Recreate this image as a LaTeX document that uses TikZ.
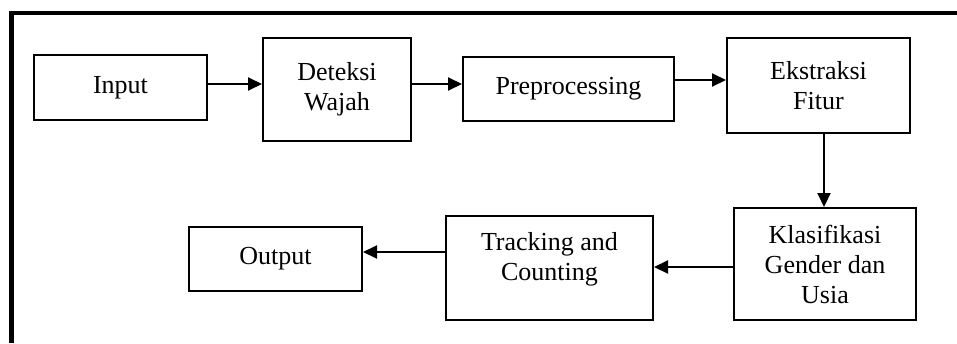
\documentclass[tikz,border=0pt]{standalone}
\usepackage{fontspec}
\setmainfont{Liberation Serif}
\usetikzlibrary{arrows.meta}
\begin{document}
\begin{tikzpicture}[x=1pt,y=-1pt,
  box/.style={draw,line width=2pt,rectangle,inner sep=0pt,align=center,
    font=\fontsize{26}{30}\selectfont},
  txt/.style={inner sep=0pt,align=center,font=\fontsize{26}{30}\selectfont},
  arr/.style={line width=2pt,-{Triangle[length=14pt,width=13pt]}},
  frame/.style={line width=4.5pt}]
\useasboundingbox (0,0) rectangle (957,343);
\fill[white] (0,0) rectangle (957,343);
% frame (top and left only)
\coordinate (f1) at (11.7,343);
\coordinate (f2) at (11.7,13);
\coordinate (f3) at (957,13);
\draw[frame] (f1) -- (f2) -- (f3);
% boxes
\node[box,minimum width=173pt,minimum height=65pt] (input) at (120.5,87.5) {Input};
\node[box,minimum width=148pt,minimum height=103pt] (deteksi) at (337,89.5) {Deteksi\\Wajah};
\node[box,minimum width=211pt,minimum height=64pt] (prep) at (568.5,89) {Preprocessing};
\node[box,minimum width=183pt,minimum height=95pt] (ekstr) at (818.5,85.5) {Ekstraksi\\Fitur};
\node[box,minimum width=182pt,minimum height=112pt] (klas) at (825,264) {Klasifikasi\\Gender dan\\Usia};
\node[box,minimum width=207pt,minimum height=104pt] (track) at (549.5,268) {};
\node[txt] (tracktxt) at (549.5,259) {Tracking and\\Counting};
\node[box,minimum width=173pt,minimum height=64pt] (output) at (275.5,259) {Output};
% arrows
\draw[arr] (input.east |- 0,84) -- (deteksi.west |- 0,84);
\draw[arr] (deteksi.east |- 0,84) -- (prep.west |- 0,84);
\draw[arr] (prep.east |- 0,80) -- (ekstr.west |- 0,80);
\draw[arr] (ekstr.south -| 824,0) -- (klas.north -| 824,0);
\draw[arr] (klas.west |- 0,267) -- (track.east |- 0,267);
\draw[arr] (track.west |- 0,252) -- (output.east |- 0,252);
\end{tikzpicture}
\end{document}
